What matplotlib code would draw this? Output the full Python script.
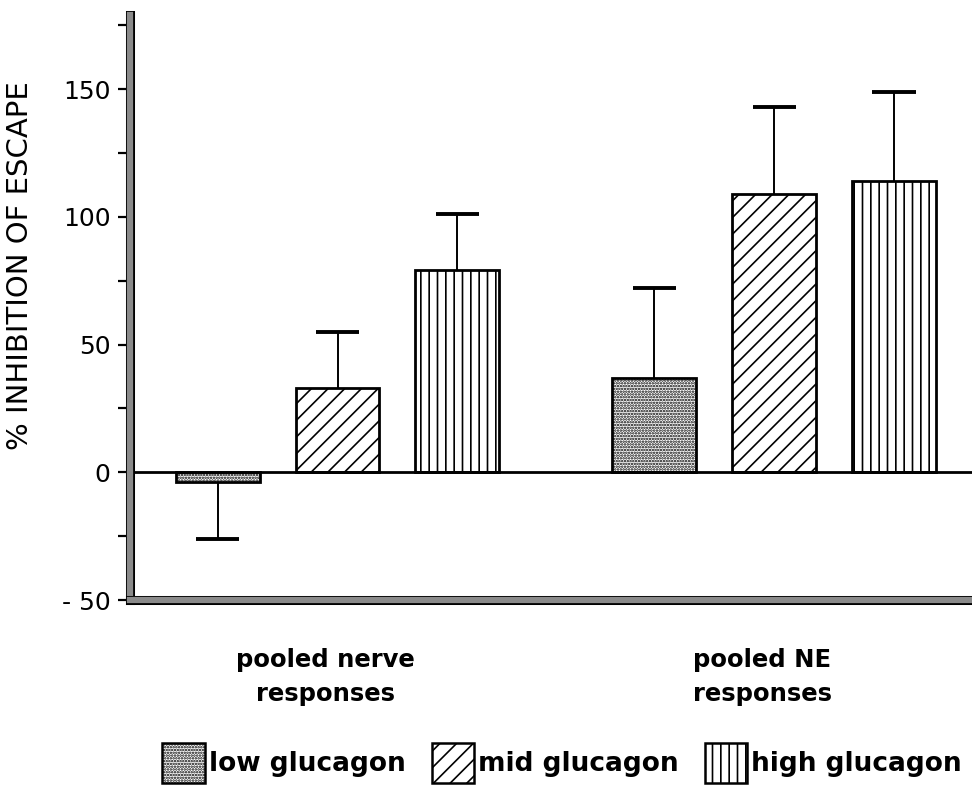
import matplotlib
matplotlib.use("Agg")
import matplotlib.pyplot as plt
import matplotlib.patheffects as pe
from matplotlib.patches import Patch
import numpy as np

plt.rcParams['font.family'] = ['DejaVu Sans']
plt.rcParams['hatch.linewidth'] = 1.2

# ---- data ----
groups = ["pooled nerve\nresponses", "pooled NE\nresponses"]
series = ["low glucagon", "mid glucagon", "high glucagon"]
nerve_vals = [-4, 33, 79]
nerve_err = [22, 22, 22]
ne_vals = [37, 109, 114]
ne_err = [35, 34, 35]
yticks = [-50, 0, 50, 100, 150]
yticklabels = ["- 50", "0", "50", "100", "150"]
minor_ticks = [-25, 25, 75, 125, 175]

hatches = ["......", "//", "||"]

fig = plt.figure(figsize=(9.72, 7.93), dpi=100)
ax = fig.add_axes([130/972, 1-600/793, (972-130)/972, (600-15)/793])

group_offsets = [0.0, 3.64]
width = 0.7
cap_half = 0.18
all_vals = [nerve_vals, ne_vals]
all_errs = [nerve_err, ne_err]

for g, (vals, errs) in enumerate(zip(all_vals, all_errs)):
    xs = np.arange(len(vals)) + group_offsets[g]
    for i, (x, v, e) in enumerate(zip(xs, vals, errs)):
        ax.bar(x, v, width=width, facecolor="white", edgecolor="black",
               linewidth=2.0, hatch=hatches[i], zorder=3)
        end = v + e if v >= 0 else v - e
        ax.vlines(x, v, end, color="black", linewidth=1.4, zorder=2)
        ax.hlines(end, x - cap_half, x + cap_half, color="black", linewidth=2.8, zorder=2)

ax.axhline(0, color="black", linewidth=2.0, zorder=4)

ax.set_xlim(-0.73, 6.29)
ax.set_ylim(-50, 179)

ax.spines["top"].set_visible(False)
ax.spines["right"].set_visible(False)
for s in ["left", "bottom"]:
    ax.spines[s].set_linewidth(4.5)
    ax.spines[s].set_color("#8a8a8a")
    ax.spines[s].set_path_effects([pe.Stroke(linewidth=6.5, foreground="black"), pe.Normal()])
    ax.spines[s].set_zorder(5)

ax.set_xticks([])
ax.set_yticks(yticks)
ax.set_yticklabels(yticklabels, fontsize=18)
ax.set_yticks(minor_ticks, minor=True)
ax.tick_params(axis="y", which="both", direction="out", length=9, width=1.6, pad=5)

fig.text(20/972, 1-266/793, "% INHIBITION OF ESCAPE", rotation=90,
         ha="center", va="center", fontsize=21)

# group labels
fig.text(325/972, 1-677/793, groups[0], ha="center", va="center",
         fontsize=17.5, fontweight="bold", linespacing=1.55)
fig.text(762/972, 1-677/793, groups[1], ha="center", va="center",
         fontsize=17.5, fontweight="bold", linespacing=1.55)

handles = [Patch(facecolor="white", edgecolor="black", linewidth=1.8, hatch=h) for h in hatches]
fig.legend(handles, series, loc="center", bbox_to_anchor=(562/972, 1-763/793),
           ncol=3, frameon=False, prop={"weight": "bold", "size": 19},
           handlelength=1.6, handleheight=1.9, handletextpad=0.15, columnspacing=1.0)

fig.savefig("out.png", dpi=100)
